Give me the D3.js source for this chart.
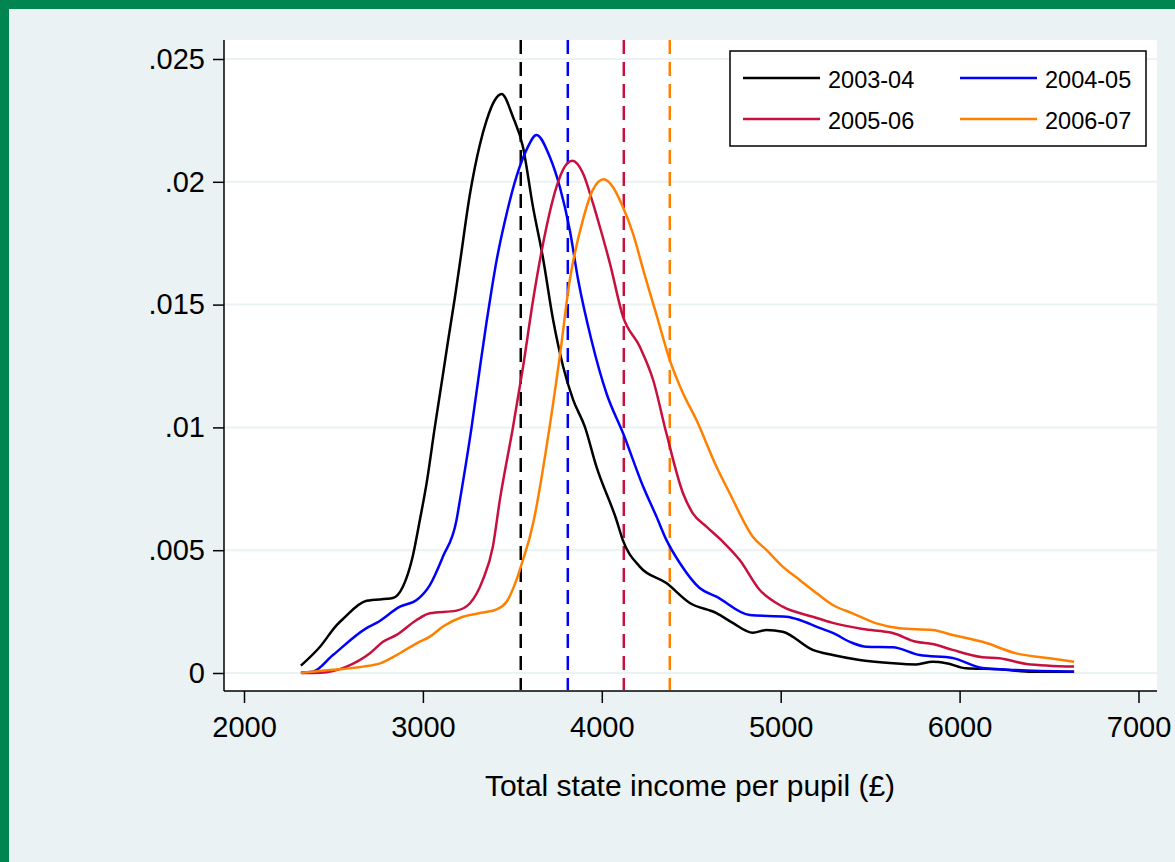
<!DOCTYPE html>
<html>
<head>
<meta charset="utf-8">
<script src="https://cdn.jsdelivr.net/npm/d3@7"></script>
<style>
  html, body { margin: 0; padding: 0; background: #eaf2f3; }
  svg { display: block; font-family: "Liberation Sans", Arial, sans-serif; }
</style>
</head>
<body>
<div id="chart"></div>
<script>
// kernel density of total state income per pupil, one series per year
var seasons = ["2003-04", "2004-05", "2005-06", "2006-07"];
var seasonMeans = [3547, 3810, 4123, 4380];

var density0304 = [
  [2318,0.0003],[2425,0.00107],[2518,0.00195],[2553,0.0022],[2685,0.00294],[2832,0.00305],
  [2888,0.00351],[2940,0.00465],[2983,0.00623],[3021,0.00774],[3067,0.01003],[3113,0.0122],
  [3140,0.0135],[3179,0.0153],[3207,0.0167],[3263,0.0195],[3318,0.0215],[3356,0.0225],
  [3400,0.0233],[3440,0.02357],[3503,0.02265],[3559,0.02143],[3615,0.01899],[3670,0.01695],
  [3728,0.01437],[3784,0.01247],[3840,0.01112],[3905,0.01003],[3970,0.0084],[4082,0.00623],
  [4117,0.00542],[4212,0.00433],[4361,0.00366],[4492,0.00285],[4641,0.00244],[4732,0.00204],
  [4844,0.00164],[4920,0.00175],[5011,0.00168],[5179,0.00094],[5291,0.00073],[5441,0.00053],
  [5609,0.00041],[5758,0.00035],[5849,0.00046],[5926,0.0004],[6037,0.00019],[6223,0.00015],
  [6408,0.00005],[6640,0.00005]
];
var density0405 = [
  [2318,0.00001],[2385,0.00005],[2497,0.00073],[2685,0.00183],[2741,0.00204],[2872,0.0027],
  [2965,0.00297],[3039,0.00358],[3112,0.00474],[3188,0.00623],[3207,0.00704],[3272,0.0100],
  [3318,0.0124],[3356,0.0143],[3384,0.0156],[3412,0.0168],[3468,0.0187],[3523,0.02021],
  [3579,0.0213],[3635,0.02191],[3709,0.02102],[3765,0.0198],[3821,0.01804],[3868,0.016],
  [3942,0.01356],[4026,0.01139],[4119,0.00976],[4231,0.00759],[4306,0.00636],[4361,0.00542],
  [4436,0.00448],[4547,0.00346],[4641,0.00311],[4827,0.00236],[5032,0.00229],[5106,0.00216],
  [5199,0.00189],[5291,0.00163],[5402,0.00122],[5479,0.00107],[5626,0.00105],[5777,0.00073],
  [5961,0.00061],[6128,0.0002],[6317,0.00012],[6640,0.00005]
];
var density0506 = [
  [2318,0],[2425,0.00001],[2574,0.00026],[2704,0.0008],[2777,0.00127],[2853,0.00155],
  [2965,0.00216],[3039,0.00243],[3188,0.00254],[3263,0.00284],[3335,0.00379],[3391,0.00514],
  [3430,0.00704],[3504,0.01003],[3560,0.01247],[3616,0.01519],[3691,0.01817],[3747,0.0198],
  [3793,0.02062],[3836,0.02086],[3894,0.02036],[3950,0.01914],[3989,0.01817],[4045,0.01669],
  [4119,0.0145],[4212,0.01329],[4287,0.01193],[4361,0.00976],[4454,0.00732],[4508,0.00651],
  [4585,0.00596],[4676,0.00535],[4771,0.0046],[4883,0.00338],[5011,0.0027],[5179,0.00229],
  [5291,0.00204],[5458,0.00179],[5626,0.00163],[5758,0.00127],[5849,0.00118],[5961,0.00094],
  [6128,0.00064],[6223,0.0006],[6373,0.00037],[6640,0.00026]
];
var density0607 = [
  [2318,0.00001],[2480,0.00012],[2665,0.00026],[2760,0.00039],[2853,0.00073],[2965,0.00121],
  [3039,0.00148],[3112,0.00189],[3223,0.00229],[3335,0.00246],[3412,0.00259],[3468,0.0029],
  [3523,0.00379],[3559,0.0046],[3598,0.00555],[3620,0.00623],[3691,0.00921],[3765,0.01288],
  [3821,0.016],[3894,0.01844],[3950,0.01967],[4011,0.0201],[4061,0.0198],[4117,0.01899],
  [4173,0.01792],[4240,0.0162],[4305,0.0146],[4380,0.01274],[4454,0.01139],[4529,0.0103],
  [4641,0.0084],[4715,0.00732],[4844,0.00555],[4920,0.00501],[5011,0.00433],[5106,0.00379],
  [5199,0.00326],[5291,0.00277],[5402,0.00243],[5535,0.00202],[5665,0.00182],[5849,0.00175],
  [5961,0.00155],[6128,0.00127],[6317,0.0008],[6503,0.0006],[6640,0.00046]
];
var densities = [density0304, density0405, density0506, density0607];

var xTicks = [2000, 3000, 4000, 5000, 6000, 7000];
var yTicks = [0, 0.005, 0.01, 0.015, 0.02, 0.025];
var yTickLabels = ["0", ".005", ".01", ".015", ".02", ".025"];
var xTitle = "Total state income per pupil (£)";

var colors = ["#000000", "#0000ff", "#c8103e", "#ff8000"];

var width = 1175, height = 862;
var plot = { left: 224, right: 1157, top: 40, bottom: 691 };

var svg = d3.select("#chart").append("svg")
  .attr("width", width)
  .attr("height", height);

svg.append("rect").attr("width", width).attr("height", height).attr("fill", "#eaf2f3");
// green frame on top and left
svg.append("rect").attr("x", 0).attr("y", 0).attr("width", width).attr("height", 9).attr("fill", "#008550");
svg.append("rect").attr("x", 0).attr("y", 0).attr("width", 9).attr("height", height).attr("fill", "#008550");

svg.append("rect")
  .attr("x", plot.left).attr("y", plot.top)
  .attr("width", plot.right - plot.left).attr("height", plot.bottom - plot.top)
  .attr("fill", "#ffffff");

var x = d3.scaleLinear().domain([2000, 7000]).range([244, 1138.5]);
var y = d3.scaleLinear().domain([0, 0.025]).range([673, 59]);

// gridlines
svg.append("g").selectAll("line")
  .data(yTicks)
  .enter().append("line")
  .attr("x1", plot.left).attr("x2", plot.right)
  .attr("y1", function (d) { return y(d); })
  .attr("y2", function (d) { return y(d); })
  .attr("stroke", "#eaf2f3")
  .attr("stroke-width", 2);

// Y axis
var yAxis = svg.append("g")
  .attr("transform", "translate(" + plot.left + ",0)")
  .call(d3.axisLeft(y).tickValues(yTicks).tickSize(11).tickPadding(8)
    .tickFormat(function (d, i) { return yTickLabels[i]; }));
yAxis.select(".domain").remove();

// X axis
var xAxis = svg.append("g")
  .attr("transform", "translate(0," + plot.bottom + ")")
  .call(d3.axisBottom(x).tickValues(xTicks).tickSize(12).tickPadding(13).tickFormat(d3.format("d")));
xAxis.select(".domain").remove();

svg.selectAll(".tick line").attr("stroke", "#000").attr("stroke-width", 1.5);
svg.selectAll(".tick text")
  .attr("fill", "#000")
  .style("font-size", "29px")
  .style("font-family", "'Liberation Sans', Arial, sans-serif");

svg.append("line")
  .attr("x1", plot.left).attr("x2", plot.left)
  .attr("y1", plot.top).attr("y2", plot.bottom)
  .attr("stroke", "#000").attr("stroke-width", 1.5);
svg.append("line")
  .attr("x1", plot.left).attr("x2", plot.right)
  .attr("y1", plot.bottom).attr("y2", plot.bottom)
  .attr("stroke", "#000").attr("stroke-width", 1.5);

// mean lines
svg.append("g").selectAll("line")
  .data(seasonMeans)
  .enter().append("line")
  .attr("x1", function (d) { return x(d); })
  .attr("x2", function (d) { return x(d); })
  .attr("y1", plot.top)
  .attr("y2", plot.bottom - 1)
  .attr("stroke", function (d, i) { return colors[i]; })
  .attr("stroke-width", 2.5)
  .attr("stroke-dasharray", "14,8");

// density curves
var line = d3.line()
  .x(function (d) { return x(d[0]); })
  .y(function (d) { return y(d[1]); })
  .curve(d3.curveMonotoneX);

svg.append("g").selectAll("path")
  .data(densities)
  .enter().append("path")
  .attr("d", line)
  .attr("fill", "none")
  .attr("stroke", function (d, i) { return colors[i]; })
  .attr("stroke-width", 2.5)
  .attr("stroke-linejoin", "round");

// axis title
svg.append("text")
  .attr("x", 690)
  .attr("y", 796)
  .attr("text-anchor", "middle")
  .style("font-size", "30px")
  .text(xTitle);

// legend
var legend = svg.append("g").attr("transform", "translate(730,51)");
legend.append("rect")
  .attr("width", 416).attr("height", 95)
  .attr("fill", "#fff").attr("stroke", "#000").attr("stroke-width", 1.5);

var items = legend.selectAll(".legend")
  .data(seasons)
  .enter().append("g")
  .attr("class", "legend")
  .attr("transform", function (d, i) {
    return "translate(" + (13 + (i % 2) * 217) + "," + (27 + Math.floor(i / 2) * 41) + ")";
  });

items.append("line")
  .attr("x1", 0).attr("x2", 77)
  .attr("stroke", function (d, i) { return colors[i]; })
  .attr("stroke-width", 2.5);

items.append("text")
  .attr("x", 85)
  .attr("y", 10)
  .style("font-size", "23.5px")
  .text(function (d) { return d; });
</script>
</body>
</html>
